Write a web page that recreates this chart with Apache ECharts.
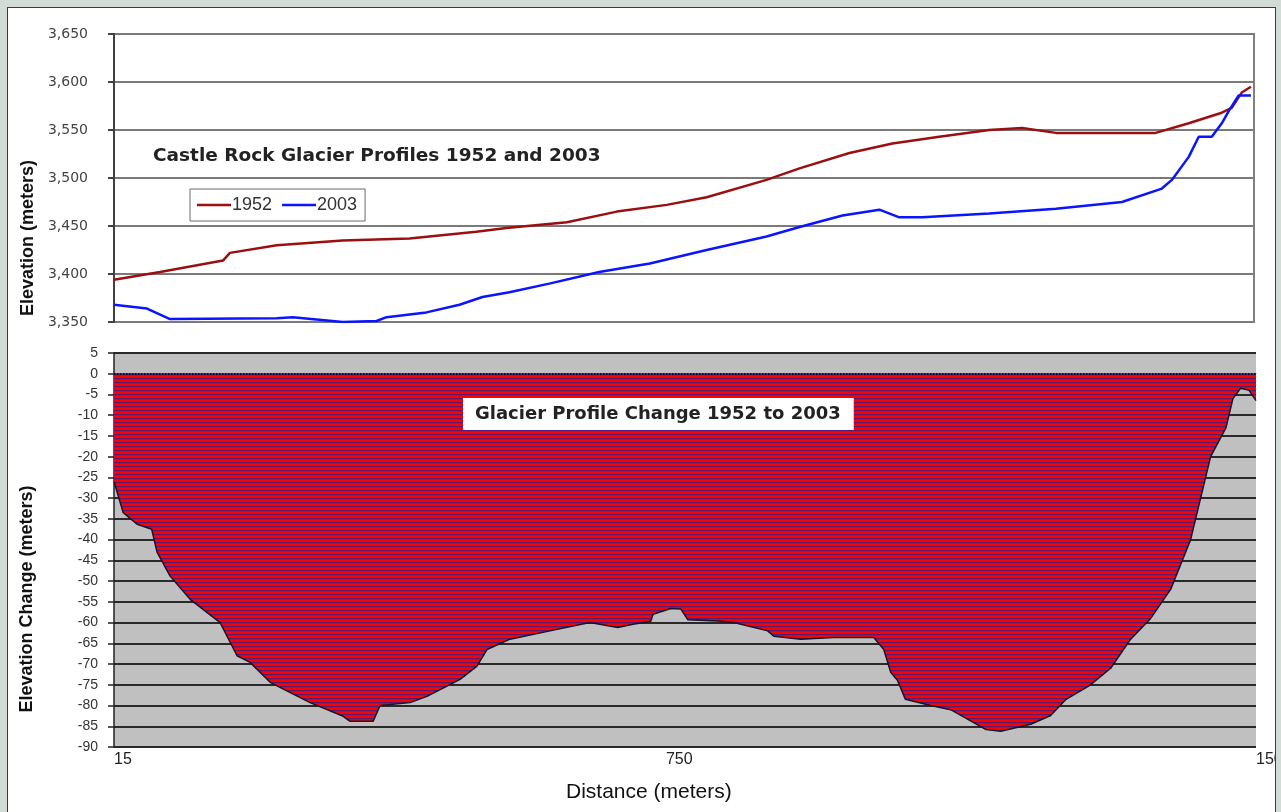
<!DOCTYPE html>
<html>
<head>
<meta charset="utf-8">
<title>Castle Rock Glacier Profiles</title>
<script src="https://cdn.jsdelivr.net/npm/echarts@6/dist/echarts.min.js"></script>
<style>
  html, body { margin: 0; padding: 0; }
  body { width: 1281px; height: 812px; background: #d3dbd7; overflow: hidden; position: relative; }
  .panel {
    position: absolute; left: 7px; top: 7px; width: 1267px; height: 820px;
    background: #fff; border: 1px solid #3a3a3a; overflow: hidden;
  }
  #chart { position: absolute; left: -8px; top: -8px; width: 1281px; height: 812px; }
</style>
</head>
<body>
<div class="panel"><div id="chart"></div></div>
<script>
// distance along profile (m) and elevation (m)
const dist1952 = [15, 75, 157, 166, 227, 313, 400, 487, 526, 605, 670, 735, 787, 865, 908, 973, 1029, 1090, 1155, 1198, 1242, 1372, 1415, 1458, 1471, 1484, 1496]
const elev1952 = [3394, 3402, 3414, 3422, 3430, 3435, 3437, 3444, 3448, 3454, 3465, 3472, 3480, 3498, 3510, 3526, 3536, 3543, 3550, 3552, 3547, 3547, 3557, 3568, 3573, 3589, 3595]

const dist2003 = [15, 58, 88, 227, 248, 313, 357, 370, 422, 465, 495, 530, 582, 647, 713, 787, 865, 908, 964, 1012, 1038, 1068, 1155, 1242, 1328, 1380, 1393, 1415, 1428, 1445, 1458, 1468, 1480, 1496]
const elev2003 = [3368, 3364, 3353, 3354, 3355, 3350, 3351, 3355, 3360, 3368, 3376, 3381, 3390, 3402, 3411, 3425, 3439, 3449, 3461, 3467, 3459, 3459, 3463, 3468, 3475, 3489, 3498, 3522, 3543, 3543, 3557, 3571, 3586, 3586]

// elevation change 1952 -> 2003 (m), lower chart
const distChange = [15, 27, 45, 64, 71, 88, 114, 153, 162, 175, 192, 218, 270, 313, 322, 352, 361, 400, 422, 465, 487, 500, 530, 582, 634, 670, 690, 713, 716, 739, 752, 761, 800, 821, 865, 873, 908, 951, 1003, 1016, 1025, 1034, 1044, 1077, 1103, 1149, 1168, 1207, 1233, 1253, 1285, 1311, 1337, 1363, 1389, 1415, 1428, 1441, 1461, 1470, 1480, 1491, 1500]
const change = [-26, -33.5, -36.3, -37.5, -43, -48.8, -54.4, -60, -63.3, -68, -69.6, -74.4, -79.3, -82.6, -83.8, -83.8, -80, -79.3, -77.8, -73.7, -70.5, -66.5, -64, -62, -60, -61.2, -60.4, -59.7, -58, -56.6, -56.7, -59.3, -59.6, -60, -62, -63.3, -64, -63.6, -63.6, -66.5, -72, -74, -78.5, -80, -81, -85.8, -86.2, -84.5, -82.4, -78.5, -75, -71, -64, -59, -52, -40, -30, -20, -13, -6, -3.5, -4, -6.5]

const xTicks = [15, 750, 1500]

const zip = (xs, ys) => xs.map((x, i) => [x, ys[i]])

// red fill with thin dark-blue horizontal stripes
const makeStripes = () => {
  const c = document.createElement('canvas')
  c.width = 4
  c.height = 4
  const ctx = c.getContext('2d')
  const rows = ['#ff0000', '#f70006', '#581a70', '#d2062c']
  rows.forEach((col, i) => {
    ctx.fillStyle = col
    ctx.fillRect(0, i, 4, 1)
  })
  return c
}

const chart = echarts.init(document.getElementById('chart'), null, { renderer: 'canvas' })

const option = {
  animation: false,
  title: [
    {
      text: 'Castle Rock Glacier Profiles 1952 and 2003',
      left: 153, top: 147, padding: 0,
      textStyle: { fontFamily: 'DejaVu Sans', fontWeight: 'bold', fontSize: 18.5, color: '#222' }
    },
    {
      text: 'Glacier Profile Change 1952 to 2003',
      left: 463, top: 398,
      padding: [7, 13, 7, 12],
      backgroundColor: '#fff',
      textStyle: { fontFamily: 'DejaVu Sans', fontWeight: 'bold', fontSize: 18, color: '#222' }
    }
  ],
  legend: {
    data: ['1952', '2003'],
    left: 190, top: 189,
    padding: [7, 8, 7, 7],
    icon: 'rect',
    itemWidth: 34, itemHeight: 2.5, itemGap: 10,
    backgroundColor: '#fff',
    borderColor: '#6a6a6a', borderWidth: 1,
    textStyle: { fontFamily: 'Liberation Sans', fontSize: 18, color: '#333', padding: [0, 0, 0, -4] }
  },
  grid: [
    {
      left: 114, top: 34, right: 27, height: 288,
      outerBoundsMode: 'none',
      show: true, backgroundColor: '#fff', borderColor: '#808080', borderWidth: 2
    },
    {
      left: 114, top: 353, right: 25, height: 394,
      outerBoundsMode: 'none',
      show: true, backgroundColor: '#c0c0c0', borderWidth: 0
    }
  ],
  xAxis: [
    {
      gridIndex: 0, type: 'value', min: 15, max: 1500,
      axisLine: { show: false }, axisTick: { show: false },
      axisLabel: { show: false }, splitLine: { show: false }
    },
    {
      gridIndex: 1, type: 'value', min: 15, max: 1500,
      axisLine: { show: true, lineStyle: { color: '#555', width: 1 } },
      axisTick: { show: false },
      splitLine: { show: false },
      axisLabel: {
        customValues: xTicks,
        formatter: v => String(v),
        alignMinLabel: 'left', alignMaxLabel: 'left',
        margin: 5,
        fontFamily: 'Liberation Sans', fontSize: 16, color: '#222'
      }
    }
  ],
  yAxis: [
    {
      gridIndex: 0, type: 'value', min: 3350, max: 3650, interval: 50,
      axisLine: { show: true, lineStyle: { color: '#404040', width: 2 } },
      axisTick: { show: true, length: 6, lineStyle: { color: '#404040', width: 2 } },
      splitLine: { lineStyle: { color: '#7a7a7a', width: 2 } },
      axisLabel: {
        margin: 26,
        fontFamily: 'DejaVu Sans', fontSize: 14, color: '#444',
        formatter: v => v.toLocaleString('en-US')
      }
    },
    {
      gridIndex: 1, type: 'value', min: -90, max: 5, interval: 5,
      axisLine: { show: true, lineStyle: { color: '#222', width: 1.5 } },
      axisTick: { show: true, length: 6, lineStyle: { color: '#222', width: 1.5 } },
      splitLine: { lineStyle: { color: '#2a2a2a', width: 2 } },
      axisLabel: { margin: 16, fontFamily: 'Liberation Sans', fontSize: 14, color: '#333' }
    }
  ],
  graphic: [
    {
      type: 'text', x: 28, y: 238, rotation: Math.PI / 2,
      style: { text: 'Elevation (meters)', font: 'bold 18px "Liberation Sans"', fill: '#111', textAlign: 'center', textVerticalAlign: 'middle' }
    },
    {
      type: 'text', x: 27, y: 599, rotation: Math.PI / 2,
      style: { text: 'Elevation Change (meters)', font: 'bold 18px "Liberation Sans"', fill: '#111', textAlign: 'center', textVerticalAlign: 'middle' }
    },
    {
      type: 'text', x: 566, y: 782,
      style: { text: 'Distance (meters)', font: '21px "Liberation Sans"', fill: '#111', textAlign: 'left', textVerticalAlign: 'top' }
    }
  ],
  series: [
    {
      name: '1952', type: 'line', xAxisIndex: 0, yAxisIndex: 0,
      data: zip(dist1952, elev1952),
      symbol: 'none', z: 3,
      lineStyle: { color: '#9a0f0f', width: 2.5 },
      itemStyle: { color: '#9a0f0f' }
    },
    {
      name: '2003', type: 'line', xAxisIndex: 0, yAxisIndex: 0,
      data: zip(dist2003, elev2003),
      symbol: 'none', z: 3,
      lineStyle: { color: '#0a14ff', width: 2.5 },
      itemStyle: { color: '#0a14ff' }
    },
    {
      name: 'Change', type: 'line', xAxisIndex: 1, yAxisIndex: 1,
      data: zip(distChange, change),
      symbol: 'none',
      lineStyle: { color: '#141430', width: 1.5 },
      areaStyle: { color: { image: makeStripes(), repeat: 'repeat' }, opacity: 1 },
      markLine: {
        silent: true, symbol: 'none',
        label: { show: false },
        lineStyle: { color: '#000', type: 'dotted', width: 1.5 },
        data: [{ yAxis: 0 }]
      }
    }
  ]
}

chart.setOption(option)
window.addEventListener('resize', chart.resize)
</script>
</body>
</html>
